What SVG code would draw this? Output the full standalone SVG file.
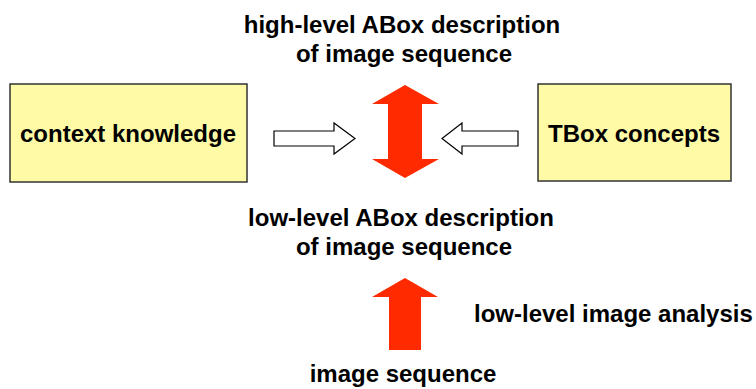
<svg xmlns="http://www.w3.org/2000/svg" width="756" height="389" viewBox="0 0 756 389">
<style>
text{font-family:"Liberation Sans",Arial,sans-serif;font-weight:bold;font-size:24px;fill:#000}
.box{fill:#fffaa6;stroke:#333;stroke-width:1.5}
.hollow{fill:#fff;stroke:#000;stroke-width:1.2;stroke-linejoin:miter}
.red{fill:#ff2a00}
</style>
<rect width="756" height="389" fill="#fff"/>
<g id="high-level">
<text x="402" y="33" text-anchor="middle">high-level ABox description</text>
<text x="404" y="62" text-anchor="middle">of image sequence</text>
</g>
<g id="context-knowledge">
<rect class="box" x="10" y="84" width="237" height="98"/>
<text x="128" y="142" text-anchor="middle">context knowledge</text>
</g>
<g id="tbox-concepts">
<rect class="box" x="538" y="84" width="193" height="97"/>
<text x="634" y="142" text-anchor="middle">TBox concepts</text>
</g>
<g id="low-level">
<text x="401" y="226" text-anchor="middle">low-level ABox description</text>
<text x="404" y="255" text-anchor="middle">of image sequence</text>
</g>
<g id="image-sequence">
<text x="403" y="382" text-anchor="middle">image sequence</text>
</g>
<g id="analysis-label">
<text x="474" y="322">low-level image analysis</text>
</g>
<g id="connectors">
<polygon class="hollow" points="274,131 334,131 334,123 355,138.5 334,154 334,146 274,146"/>
<polygon class="hollow" points="518,131 462,131 462,123 442,138.5 462,154 462,146 518,146"/>
<polygon class="red" points="405,85 439,104 422,104 422,159 439,159 405,178 372,159 388,159 388,104 372,104"/>
<polygon class="red" points="405,278 438,297 421,297 421,350 389,350 389,297 372,297"/>
</g>
</svg>
